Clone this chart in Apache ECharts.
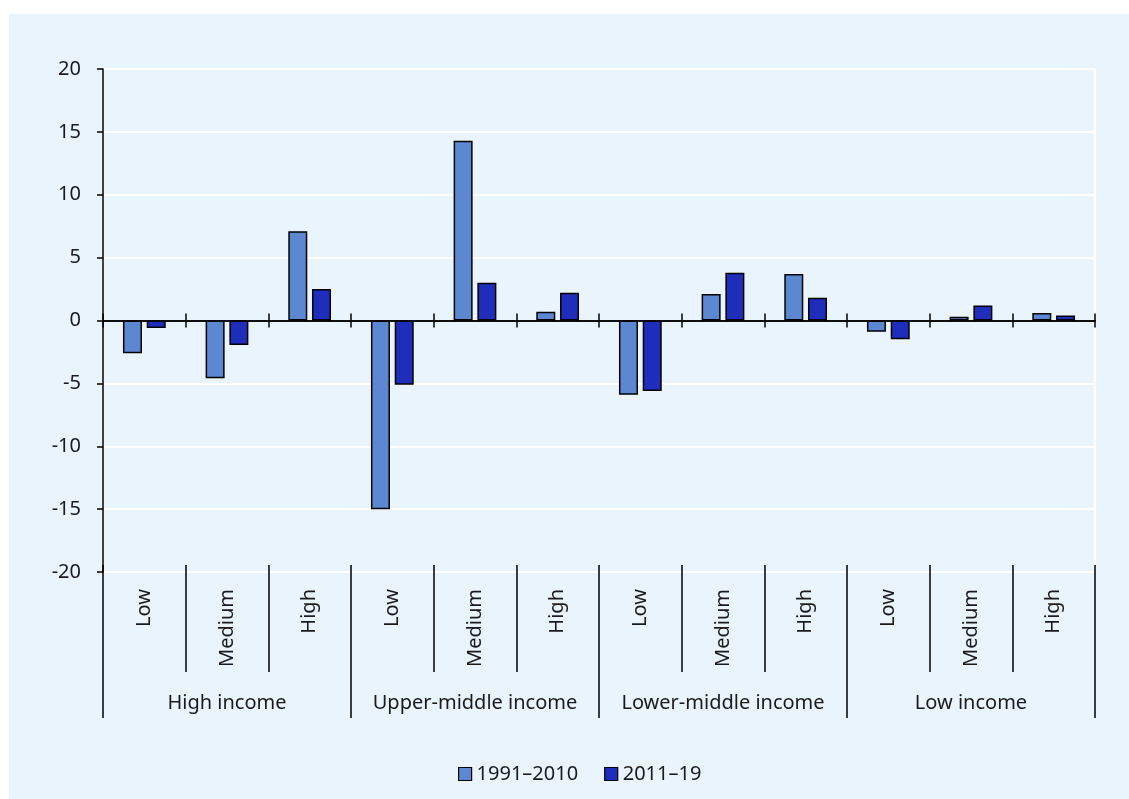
<!DOCTYPE html>
<html>
<head>
<meta charset="utf-8">
<script src="https://cdn.jsdelivr.net/npm/echarts@6/dist/echarts.min.js"></script>
<style>
    html, body { margin: 0; padding: 0; background: #fff; }
    #chart { width: 1129px; height: 799px; }
</style>
</head>
<body>
<div id="chart"></div>
<script>
// data
const subCats = ['Low', 'Medium', 'High', 'Low', 'Medium', 'High', 'Low', 'Medium', 'High', 'Low', 'Medium', 'High'];
const groups = ['High income', 'Upper-middle income', 'Lower-middle income', 'Low income'];
const seriesNames = ['1991–2010', '2011–19'];
const early = [-2.6, -4.6, 7.1, -15.0, 14.3, 0.7, -5.9, 2.1, 3.7, -0.9, 0.3, 0.6];
const late = [-0.6, -1.95, 2.5, -5.1, 3.0, 2.2, -5.6, 3.8, 1.8, -1.5, 1.2, 0.4];
const yTicks = [-20, -15, -10, -5, 0, 5, 10, 15, 20];

const font = 'Noto Sans';
const txt = '#1a1a1a';
const fs = 20;

const chart = echarts.init(document.getElementById('chart'));

const option = {
    animation: false,
    textStyle: { fontFamily: font },
    graphic: [
        {
            type: 'rect',
            z: -10,
            shape: { x: 9, y: 14, width: 1120, height: 785 },
            style: { fill: '#eaf4fd' }
        }
    ],
    grid: {
        left: 103,
        right: 34,
        top: 69,
        bottom: 227,
        show: true,
        borderColor: '#fff',
        borderWidth: 2
    },
    legend: {
        left: 453,
        top: 759,
        itemWidth: 13,
        itemHeight: 13,
        itemGap: 26,
        icon: 'rect',
        itemStyle: { borderColor: '#000', borderWidth: 1.2 },
        textStyle: { fontFamily: font, fontSize: fs, color: txt },
        data: seriesNames
    },
    xAxis: [
        // bar axis, ticks down through zero
        {
            type: 'category',
            data: subCats,
            position: 'bottom',
            axisLine: { onZero: true, onZeroAxisIndex: 0, lineStyle: { color: '#000', width: 1.5 } },
            axisTick: { show: true, interval: 0, length: 7, lineStyle: { color: '#000', width: 1.5 } },
            axisLabel: { show: false },
            splitLine: { show: false }
        },
        // ticks up through zero
        {
            type: 'category',
            data: subCats,
            position: 'bottom',
            axisLine: { onZero: true, onZeroAxisIndex: 0, lineStyle: { color: '#000', width: 1.5 } },
            axisTick: { show: true, inside: true, interval: 0, length: 7, lineStyle: { color: '#000', width: 1.5 } },
            axisLabel: { show: false },
            splitLine: { show: false }
        },
        // sub category labels
        {
            type: 'category',
            data: subCats,
            position: 'bottom',
            offset: -7,
            axisLine: { show: false, onZero: false },
            axisTick: { show: true, interval: 0, length: 107, lineStyle: { color: '#000', width: 1.5 } },
            axisLabel: { interval: 0, rotate: 90, margin: 24, fontFamily: font, fontSize: fs, color: txt }
        },
        // group labels
        {
            type: 'category',
            data: groups,
            position: 'bottom',
            offset: -7,
            axisLine: { show: false, onZero: false },
            axisTick: { show: true, interval: 0, length: 153, lineStyle: { color: '#000', width: 1.5 } },
            axisLabel: { interval: 0, margin: 128, fontFamily: font, fontSize: fs, color: txt }
        }
    ],
    yAxis: {
        type: 'value',
        min: yTicks[0],
        max: yTicks[yTicks.length - 1],
        interval: 5,
        axisLine: { show: true, lineStyle: { color: '#000', width: 1.5 } },
        axisTick: { show: true, length: 6, lineStyle: { color: '#000', width: 1.5 } },
        axisLabel: { margin: 22, fontFamily: font, fontSize: fs, color: txt },
        splitLine: { show: true, lineStyle: { color: '#fff', width: 2 } }
    },
    series: [
        {
            name: seriesNames[0],
            type: 'bar',
            xAxisIndex: 0,
            data: early,
            barWidth: 19,
            barGap: '25%',
            itemStyle: { color: '#5b88d0', borderColor: '#000', borderWidth: 1.5 }
        },
        {
            name: seriesNames[1],
            type: 'bar',
            xAxisIndex: 0,
            data: late,
            barWidth: 19,
            barGap: '25%',
            itemStyle: { color: '#1f2dbb', borderColor: '#000', borderWidth: 1.5 }
        }
    ]
};

chart.setOption(option);
</script>
</body>
</html>
